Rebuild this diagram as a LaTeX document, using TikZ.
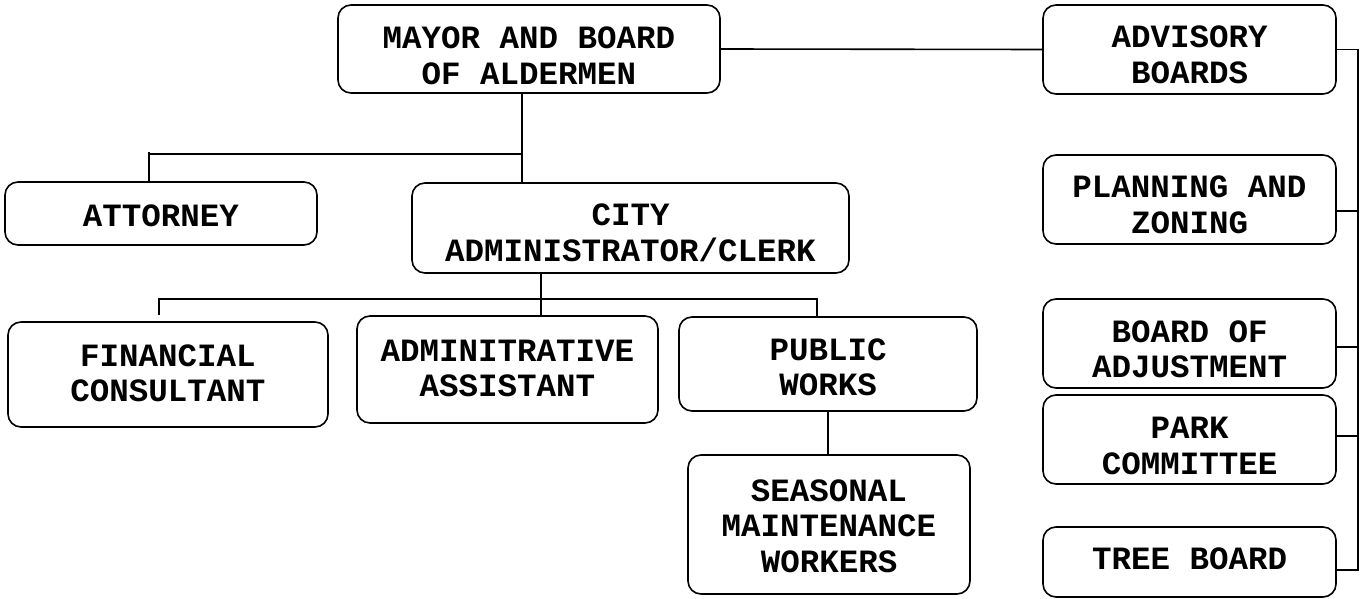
\documentclass[tikz,border=0pt]{standalone}
\usepackage{fontspec}
\newfontfamily\boxfont{Liberation Mono}
\begin{document}
\begin{tikzpicture}[x=1pt,y=-1pt,
  orgbox/.style={draw, line width=1.6pt, rounded corners=13pt, inner sep=0pt},
  boxtext/.style={align=center, inner sep=0pt,
    font=\boxfont\bfseries\fontsize{32.5}{35.5}\selectfont},
  link/.style={line width=1.6pt}]
\useasboundingbox (0,0) rectangle (1364,599);
% boxes
\node[orgbox, minimum width=382, minimum height=88] (mayor) at (529,49) {};
\node[orgbox, minimum width=312, minimum height=63] (attorney) at (161,213.5) {};
\node[orgbox, minimum width=437, minimum height=90] (city) at (630.5,228) {};
\node[orgbox, minimum width=320, minimum height=105] (fin) at (168,374.5) {};
\node[orgbox, minimum width=301, minimum height=107] (admin) at (507.5,369.5) {};
\node[orgbox, minimum width=298, minimum height=94] (pw) at (828,364) {};
\node[orgbox, minimum width=282, minimum height=139] (seasonal) at (829,524.5) {};
\node[orgbox, minimum width=293, minimum height=89] (adv) at (1189.5,49.5) {};
\node[orgbox, minimum width=293, minimum height=89] (plan) at (1189.5,199.5) {};
\node[orgbox, minimum width=293, minimum height=89] (board) at (1189.5,343.5) {};
\node[orgbox, minimum width=293, minimum height=89] (park) at (1189.5,439.5) {};
\node[orgbox, minimum width=293, minimum height=70] (tree) at (1189.5,562) {};
% texts
\node[boxtext] (mayor-t) at ([yshift=-7pt]mayor.center) {MAYOR AND BOARD\\OF ALDERMEN};
\node[boxtext] (attorney-t) at ([yshift=-2pt]attorney.center) {ATTORNEY};
\node[boxtext] (city-t) at ([yshift=-5pt]city.center) {CITY\\ADMINISTRATOR/CLERK};
\node[boxtext] (fin-t) at ([yshift=1pt]fin.center) {FINANCIAL\\CONSULTANT};
\node[boxtext] (admin-t) at ([yshift=1pt]admin.center) {ADMINITRATIVE\\ASSISTANT};
\node[boxtext] (pw-t) at ([yshift=-3.5pt]pw.center) {PUBLIC\\WORKS};
\node[boxtext] (seasonal-t) at ([yshift=-1.5pt]seasonal.center) {SEASONAL\\MAINTENANCE\\WORKERS};
\node[boxtext] (adv-t) at ([yshift=-5.5pt]adv.center) {ADVISORY\\BOARDS};
\node[boxtext] (plan-t) at ([yshift=-5.5pt]plan.center) {PLANNING AND\\ZONING};
\node[boxtext] (board-t) at ([yshift=-6pt]board.center) {BOARD OF\\ADJUSTMENT};
\node[boxtext] (park-t) at ([yshift=-6.5pt]park.center) {PARK\\COMMITTEE};
\node[boxtext] (tree-t) at ([yshift=3.5pt]tree.center) {TREE BOARD};
% junctions
\coordinate (j1) at (522,154);
\coordinate (a1) at (149,152);
\coordinate (j2) at (541,299);
\coordinate (bt) at (1358,570);
% connectors
\draw[link] ([xshift=-7pt]mayor.south) -- ([xshift=-7pt]mayor.south |- city.north);
\draw[link] (j1) -- (j1 -| a1);
\draw[link] (a1) -- (a1 |- attorney.north);
\draw[link] ([xshift=-89.5pt]city.south) -- (j2);
\draw[link] (j2) -| ([xshift=-9pt,yshift=6pt]fin.north);
\draw[link] (j2) -- ([xshift=33.5pt]admin.north);
\draw[link] (j2) -| ([xshift=-11pt]pw.north);
\draw[link] (pw.south) -- (pw.south |- seasonal.north);
\draw[link] (mayor.east) -- (adv.west);
\draw[link] (adv.east) -| (bt) -- ([yshift=-8pt]tree.east);
\draw[link] ([yshift=-11.5pt]plan.east) -- ([yshift=-11.5pt]plan.east -| bt);
\draw[link] ([yshift=-3.5pt]board.east) -- ([yshift=-3.5pt]board.east -| bt);
\draw[link] ([yshift=3.5pt]park.east) -- ([yshift=3.5pt]park.east -| bt);
\end{tikzpicture}
\end{document}
